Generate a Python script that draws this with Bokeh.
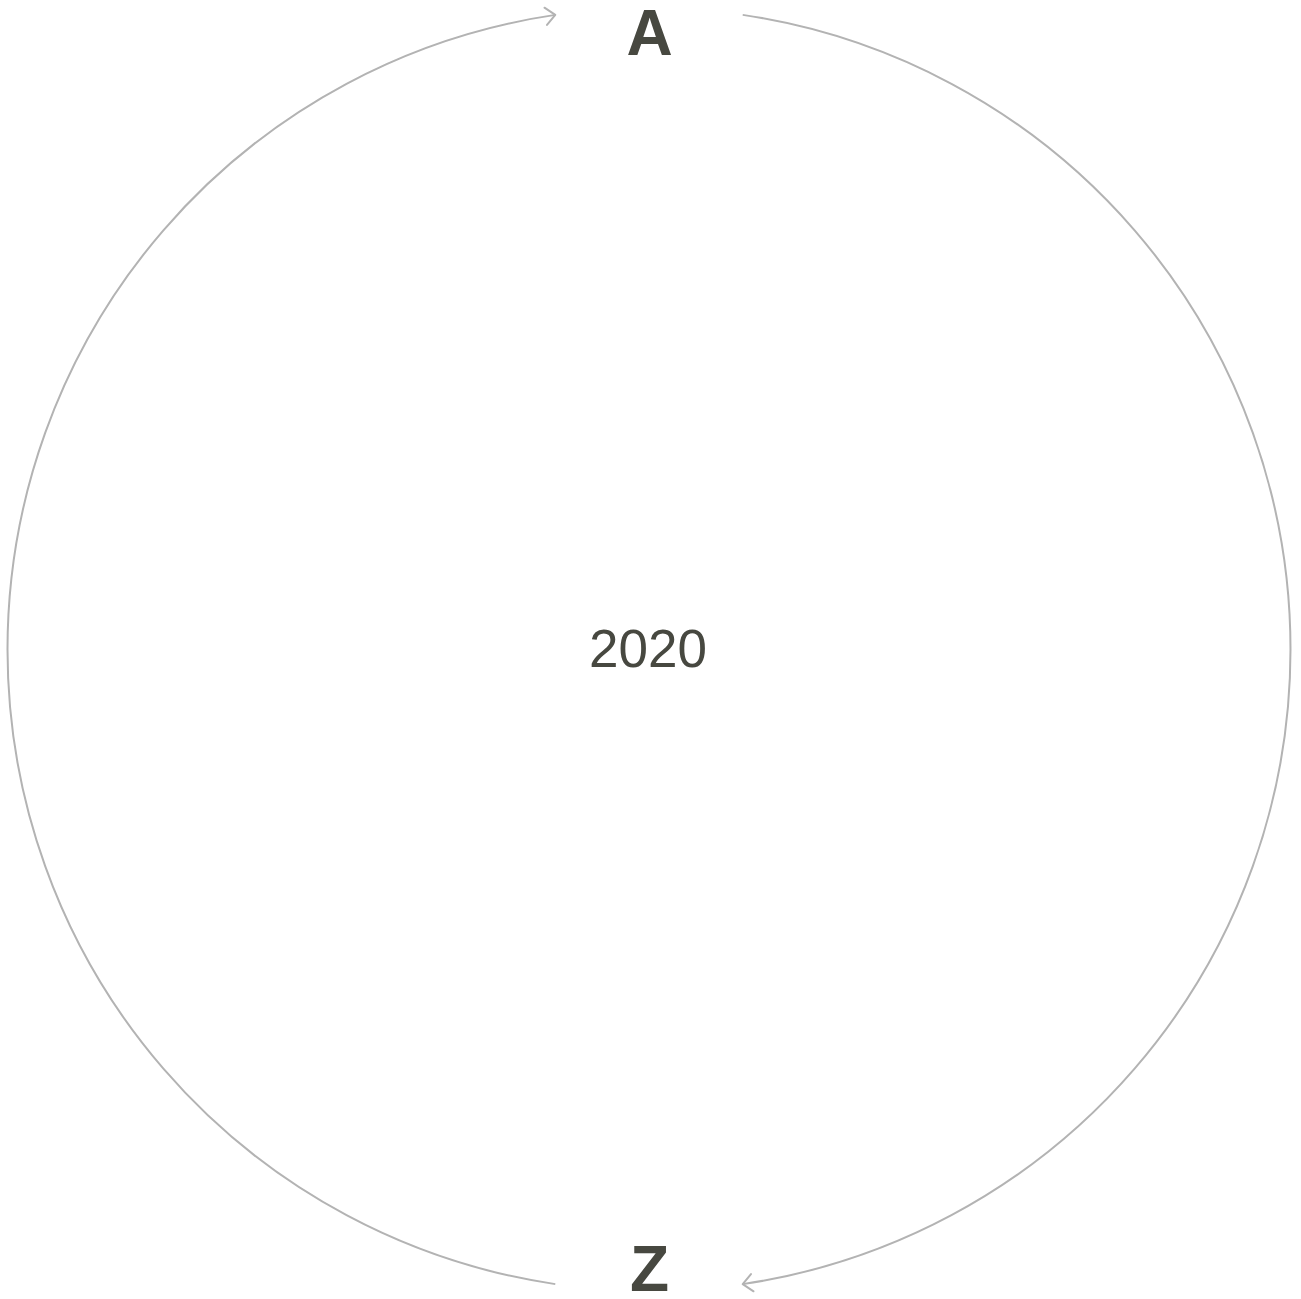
import numpy as np
from bokeh.plotting import figure
from bokeh.models import Range1d
from bokeh.core.properties import value
from bokeh.embed import file_html
from bokeh.resources import INLINE

# ---- data (labels) ----
start_label = ["A"]
end_label = ["Z"]
center_label = ["2020"]

# ---- layout / style ----
R = 641.5
GAP_DEG = 8.4            # gap each side of the vertical axis
LINE_COLOR = "#b3b3b3"
TEXT_COLOR = "#474840"

p = figure(width=1301, height=1299, output_backend="svg", toolbar_location=None,
           x_range=Range1d(-648.5, 652.5), y_range=Range1d(-650, 649),
           min_border=0, outline_line_color=None)
p.axis.visible = False
p.grid.visible = False
p.background_fill_color = "white"
p.border_fill_color = "white"

g = np.radians(GAP_DEG)
left_start = np.pi / 2 + g
left_end = 3 * np.pi / 2 - g
right_start = -np.pi / 2 + g
right_end = np.pi / 2 - g

p.arc(x=[0, 0], y=[0, 0], radius=[R, R],
      start_angle=[left_start, right_start], end_angle=[left_end, right_end],
      line_color=LINE_COLOR, line_width=2)

# arrow heads (clockwise travel direction)
def head(theta, length=13, spread_deg=42):
    tx, ty = R * np.cos(theta), R * np.sin(theta)
    dx, dy = np.sin(theta), -np.cos(theta)   # clockwise tangent
    back = np.arctan2(-dy, -dx)
    s = np.radians(spread_deg)
    xs = [tx + length * np.cos(back + s), tx, tx + length * np.cos(back - s)]
    ys = [ty + length * np.sin(back + s), ty, ty + length * np.sin(back - s)]
    return xs, ys

h1 = head(left_start)
h2 = head(right_start)
p.multi_line(xs=[h1[0], h2[0]], ys=[h1[1], h2[1]], line_color=LINE_COLOR,
             line_width=2, line_join="round", line_cap="round")

p.text(x=[0.5], y=[616.5], text=start_label, text_align="center",
       text_baseline="middle", text_font=value("Liberation Sans"),
       text_font_style="bold", text_font_size="64px", text_color=TEXT_COLOR)
p.text(x=[0.5], y=[-619], text=end_label, text_align="center",
       text_baseline="middle", text_font=value("Liberation Sans"),
       text_font_style="bold", text_font_size="64px", text_color=TEXT_COLOR)
p.text(x=[-1], y=[1.5], text=center_label, text_align="center",
       text_baseline="middle", text_font=value("Liberation Sans"),
       text_font_size="53px", text_color=TEXT_COLOR)

open("out.html", "w").write(file_html(p, INLINE))
